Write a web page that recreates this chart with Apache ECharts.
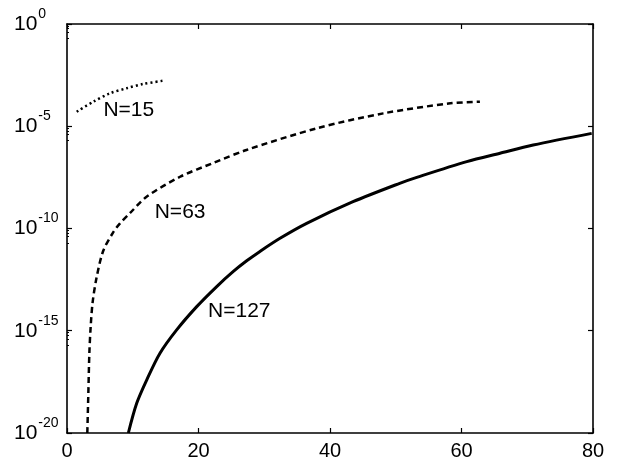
<!DOCTYPE html>
<html>
<head>
<meta charset="UTF-8"/>
<script src="https://cdn.jsdelivr.net/npm/echarts@6/dist/echarts.min.js"></script>
<style>
  html, body { margin: 0; background: #fff; }
  #c { width: 618px; height: 464px; }
</style>
</head>
<body>
<div id="c"></div>
<script>
// values (y values are magnitudes on a log axis)
const n15X = [1.47, 3.99, 6.54, 9.08, 11.6, 14.75];
const n15Y = [5.13e-5, 1.58e-4, 4.07e-4, 7.24e-4, 1.17e-3, 1.70e-3];

const n63X = [3.09, 3.25, 3.4, 3.6, 3.9, 4.5, 5.5, 7.0, 8.06, 9.6, 12.1, 17.2, 22.2, 27.3, 38, 48.1, 58.3, 62.8];
const n63Y = [1e-20, 1e-18, 7.94e-17, 1.58e-15, 2.51e-14, 3.98e-13, 7.94e-12, 6.31e-11, 1.78e-10,
              5.75e-10, 3.55e-9, 3.39e-8, 1.58e-7, 6.92e-7, 7.94e-6, 4.27e-5, 1.32e-4, 1.58e-4];

const n127X = [9.33, 10.6, 12.12, 14.14, 16.68, 19.73, 22.77, 25.3, 27.33, 29.35, 32.4, 36.45,
               43.5, 50.6, 53.2, 60.8, 65.86, 70.9, 79.8];
const n127Y = [1e-20, 2.82e-19, 3.89e-18, 7.94e-17, 1.10e-15, 1.51e-14, 1.45e-13, 7.94e-13, 2.63e-12,
               7.59e-12, 3.31e-11, 1.78e-10, 2.04e-9, 1.62e-8, 3.16e-8, 1.86e-7, 4.79e-7, 1.20e-6, 4.47e-6];

// curve labels: [text, x, y]
const curveLabels = [
  ['N=15', 9.4, 6.3e-5],
  ['N=63', 17.2, 6.5e-10],
  ['N=127', 26.2, 9.0e-15]
];

const xTicks = [0, 20, 40, 60, 80];

const FONT = '"Liberation Sans", Arial, sans-serif';
const zip = (xs, ys) => xs.map((x, i) => [x, ys[i]]);

function labelPoint(lbl) {
  return {
    data: [{ coord: [lbl[1], lbl[2]] }],
    symbol: 'circle', symbolSize: 0,
    label: { show: true, position: 'inside', formatter: lbl[0], color: '#000',
             fontSize: 21, fontFamily: FONT },
    silent: true, animation: false
  };
}

const axisLine = { show: true, onZero: false, lineStyle: { color: '#000', width: 1.6 } };
const tick = { show: true, inside: true, length: 5, lineStyle: { color: '#000', width: 1.2 } };

const chart = echarts.init(document.getElementById('c'), null, { renderer: 'canvas' });
chart.setOption({
  backgroundColor: '#fff',
  animation: false,
  grid: { left: 67, right: 25, top: 24, bottom: 31 },
  xAxis: [{
    type: 'value', min: xTicks[0], max: xTicks[xTicks.length - 1], interval: 20,
    axisLine: axisLine, axisTick: tick, splitLine: { show: false },
    axisLabel: { color: '#000', fontSize: 20, fontFamily: FONT, margin: 8 }
  }, {
    type: 'value', position: 'top', min: 0, max: 80, interval: 20,
    axisLine: axisLine, axisTick: tick, splitLine: { show: false }, axisLabel: { show: false }
  }],
  yAxis: [{
    type: 'log', logBase: 10, min: 1e-20, max: 1, interval: 5,
    axisLine: axisLine, axisTick: tick, splitLine: { show: false },
    minorTick: { show: true, splitNumber: 5, length: 2, lineStyle: { color: '#000', width: 1 } },
    axisLabel: {
      align: 'left', margin: 53, color: '#000', fontFamily: FONT,
      formatter: v => '{b|10}{s|' + Math.round(Math.log10(v)) + '}',
      rich: {
        b: { fontSize: 21, fontFamily: FONT, color: '#000' },
        s: { fontSize: 14, fontFamily: FONT, color: '#000', padding: [0, 0, 20, 1] }
      }
    }
  }, {
    type: 'log', logBase: 10, position: 'right', min: 1e-20, max: 1, interval: 5,
    axisLine: axisLine, axisTick: tick, splitLine: { show: false }, axisLabel: { show: false }
  }],
  series: [{
    type: 'line', name: 'N=15', data: zip(n15X, n15Y), showSymbol: false, smooth: 0.3,
    lineStyle: { color: '#000', width: 2.5, type: [2, 3], cap: 'butt' },
    markPoint: labelPoint(curveLabels[0])
  }, {
    type: 'line', name: 'N=63', data: zip(n63X, n63Y), showSymbol: false, smooth: 0.3,
    lineStyle: { color: '#000', width: 2.5, type: [6, 4], cap: 'butt' },
    markPoint: labelPoint(curveLabels[1])
  }, {
    type: 'line', name: 'N=127', data: zip(n127X, n127Y), showSymbol: false, smooth: 0.3,
    lineStyle: { color: '#000', width: 3 },
    markPoint: labelPoint(curveLabels[2])
  }]
});
</script>
</body>
</html>
